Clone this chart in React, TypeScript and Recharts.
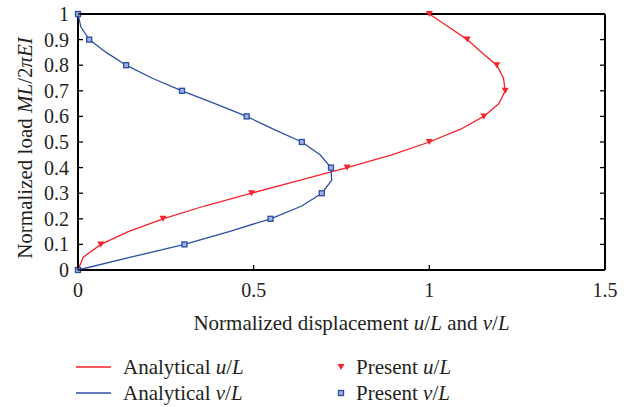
import React from 'react'
import { ScatterChart, Scatter, XAxis, YAxis, Label } from 'recharts'

// Load levels ML/2πEI
const analyticalLoad = [0, 0.05, 0.1, 0.15, 0.2, 0.25, 0.3, 0.35, 0.4, 0.45, 0.5, 0.55, 0.6, 0.65, 0.7, 0.75, 0.8, 0.85, 0.9, 0.95, 1]
const analyticalU = [0, 0.015, 0.065, 0.143, 0.242, 0.36, 0.494, 0.63, 0.766, 0.893, 1.0, 1.089, 1.155, 1.198, 1.216, 1.211, 1.192, 1.149, 1.108, 1.054, 1.0]
const analyticalV = [0, 0.15, 0.303, 0.43, 0.548, 0.637, 0.694, 0.722, 0.72, 0.689, 0.637, 0.556, 0.48, 0.39, 0.296, 0.21, 0.137, 0.08, 0.032, 0.008, 0]

const presentLoad = [0, 0.1, 0.2, 0.3, 0.4, 0.5, 0.6, 0.7, 0.8, 0.9, 1]
const presentU = [0, 0.065, 0.242, 0.494, 0.766, 1.0, 1.155, 1.216, 1.192, 1.108, 1.0]
const presentV = [0, 0.303, 0.548, 0.694, 0.72, 0.637, 0.48, 0.296, 0.137, 0.032, 0]

const xTicks = [0, 0.5, 1, 1.5]
const yTicks = [0, 0.1, 0.2, 0.3, 0.4, 0.5, 0.6, 0.7, 0.8, 0.9, 1]

const RED = '#f4222a'
const BLUE = '#2c4ea4'
const FONT = '"Liberation Serif", "DejaVu Serif", serif'
const INK = '#231f20'

const toPoints = (xs: number[], ys: number[]) => xs.map((x, i) => ({ x, y: ys[i] }))

const analyticalUData = toPoints(analyticalU, analyticalLoad)
const analyticalVData = toPoints(analyticalV, analyticalLoad)
const presentUData = toPoints(presentU, presentLoad)
const presentVData = toPoints(presentV, presentLoad)

const NoDot = () => <g />

const TriangleDown = ({ cx, cy }: any) => (
  <path d={`M${cx - 3.5},${cy - 3} L${cx + 3.5},${cy - 3} L${cx},${cy + 3} Z`} fill={RED} />
)

const SmallSquare = ({ cx, cy }: any) => (
  <rect x={cx - 2.5} y={cy - 2.5} width={5} height={5} fill="#9fb2e2" stroke={BLUE} strokeWidth={1.3} />
)

const LeftTick = ({ x, y, payload }: any) => (
  <g>
    <line x1={x} x2={x + 5} y1={y} y2={y} stroke="#000" strokeWidth={1.3} />
    <text x={x - 9} y={y + 7} textAnchor="end" fontFamily={FONT} fontSize={20} fill={INK}>
      {String(payload.value)}
    </text>
  </g>
)

const RightTick = ({ x, y }: any) => (
  <line x1={x - 5} x2={x} y1={y} y2={y} stroke="#000" strokeWidth={1.3} />
)

const BottomTick = ({ x, y, payload }: any) => (
  <g>
    <line x1={x} x2={x} y1={y} y2={y - 5} stroke="#000" strokeWidth={1.3} />
    <text x={x} y={y + 27} textAnchor="middle" fontFamily={FONT} fontSize={20} fill={INK}>
      {String(payload.value)}
    </text>
  </g>
)

const XTitle = ({ viewBox }: any) => (
  <text x={viewBox.x + viewBox.width / 2 + 10} y={viewBox.y + 60} textAnchor="middle" fontFamily={FONT} fontSize={21} fill={INK}>
    Normalized displacement <tspan fontStyle="italic">u</tspan>/<tspan fontStyle="italic">L</tspan> and{' '}
    <tspan fontStyle="italic">v</tspan>/<tspan fontStyle="italic">L</tspan>
  </text>
)

const YTitle = ({ viewBox }: any) => {
  const cx = 32
  const cy = viewBox.y + viewBox.height / 2 + 6
  return (
    <text x={cx} y={cy} transform={`rotate(-90 ${cx} ${cy})`} textAnchor="middle" fontFamily={FONT} fontSize={21} fill={INK}>
      Normalized load <tspan fontStyle="italic">ML</tspan>/2<tspan fontStyle="italic">πEI</tspan>
    </text>
  )
}

const legendRows = [
  { name: 'Analytical', sym: 'u', color: RED, kind: 'line', left: 76, top: 367 },
  { name: 'Analytical', sym: 'v', color: BLUE, kind: 'line', left: 76, top: 393 },
  { name: 'Present', sym: 'u', color: RED, kind: 'tri', left: 336, top: 367 },
  { name: 'Present', sym: 'v', color: BLUE, kind: 'sq', left: 336, top: 393 },
]

function LegendBlock() {
  return (
    <>
      {legendRows.map((r, i) => (
        <div
          key={i}
          style={{ position: 'absolute', left: r.left, top: r.top - 14, height: 28, display: 'flex', alignItems: 'center', fontFamily: FONT, fontSize: 21, color: INK, whiteSpace: 'nowrap' }}
        >
          {r.kind === 'line' ? (
            <svg width={35} height={4} style={{ marginRight: 12 }}>
              <line x1={0} x2={35} y1={2} y2={2} stroke={r.color} strokeWidth={1.6} />
            </svg>
          ) : (
            <svg width={10} height={10} style={{ marginRight: 10 }}>
              {r.kind === 'tri' ? (
                <path d="M1.5,2 L8.5,2 L5,8 Z" fill={RED} />
              ) : (
                <rect x={2.5} y={2.5} width={5} height={5} fill="#9fb2e2" stroke={BLUE} strokeWidth={1.3} />
              )}
            </svg>
          )}
          <span>
            {r.name} <i>{r.sym}</i>/<i>L</i>
          </span>
        </div>
      ))}
    </>
  )
}

export default function App() {
  return (
    <div style={{ position: 'absolute', left: 0, top: 0, width: 634, height: 407, background: '#fff' }}>
      <ScatterChart width={634} height={407} margin={{ top: 13, right: 28, left: 18, bottom: 97 }}>
        <XAxis
          dataKey="x"
          type="number"
          domain={[0, 1.5]}
          ticks={xTicks}
          height={40}
          tickSize={0}
          tickMargin={0}
          tickLine={false}
          tick={<BottomTick />}
          axisLine={{ stroke: '#000', strokeWidth: 2 }}
        >
          <Label content={<XTitle />} />
        </XAxis>
        <XAxis
          xAxisId="top"
          dataKey="x"
          orientation="top"
          type="number"
          domain={[0, 1.5]}
          height={1}
          tick={false}
          tickLine={false}
          axisLine={{ stroke: '#000', strokeWidth: 2 }}
        />
        <YAxis
          dataKey="y"
          type="number"
          domain={[0, 1]}
          ticks={yTicks}
          width={60}
          tickSize={0}
          tickMargin={0}
          tickLine={false}
          tick={<LeftTick />}
          axisLine={{ stroke: '#000', strokeWidth: 2 }}
        >
          <Label content={<YTitle />} />
        </YAxis>
        <YAxis
          yAxisId="right"
          dataKey="y"
          orientation="right"
          type="number"
          domain={[0, 1]}
          ticks={yTicks}
          width={1}
          tickSize={0}
          tickMargin={0}
          tickLine={false}
          tick={<RightTick />}
          axisLine={{ stroke: '#000', strokeWidth: 2 }}
        />
        {/* invisible series so the framing axes (top/right) get drawn */}
        <Scatter xAxisId="top" yAxisId="right" data={presentUData} shape={<NoDot />} isAnimationActive={false} />
        <Scatter data={analyticalUData} line={{ stroke: RED, strokeWidth: 1.3 }} shape={<NoDot />} isAnimationActive={false} />
        <Scatter data={analyticalVData} line={{ stroke: BLUE, strokeWidth: 1.3 }} shape={<NoDot />} isAnimationActive={false} />
        <Scatter data={presentUData} shape={<TriangleDown />} isAnimationActive={false} />
        <Scatter data={presentVData} shape={<SmallSquare />} isAnimationActive={false} />
      </ScatterChart>
      <LegendBlock />
    </div>
  )
}
